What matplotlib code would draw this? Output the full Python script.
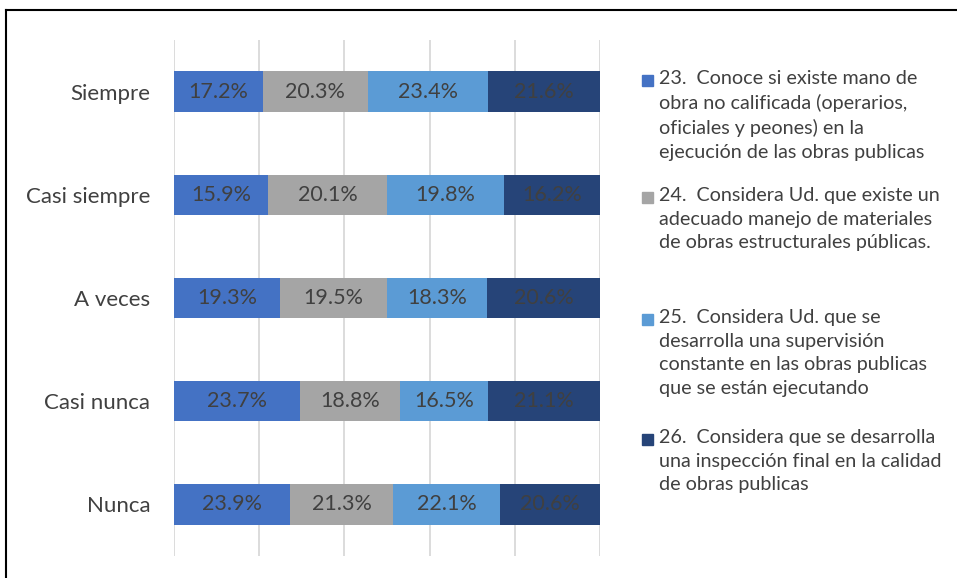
import numpy as np
import pandas as pd
import matplotlib.pyplot as plt
from matplotlib.patches import Rectangle

plt.rcParams['font.family'] = ['Lato', 'DejaVu Sans']

categorias = ['Siempre', 'Casi siempre', 'A veces', 'Casi nunca', 'Nunca']
p23 = [17.2, 15.9, 19.3, 23.7, 23.9]
p24 = [20.3, 20.1, 19.5, 18.8, 21.3]
p25 = [23.4, 19.8, 18.3, 16.5, 22.1]
p26 = [21.6, 16.2, 20.6, 21.1, 20.6]

leyenda = [
    '23.  Conoce si existe mano de\nobra no calificada (operarios,\noficiales y peones) en la\nejecución de las obras publicas',
    '24.  Considera Ud. que existe un\nadecuado manejo de materiales\nde obras estructurales públicas.',
    '25.  Considera Ud. que se\ndesarrolla una supervisión\nconstante en las obras publicas\nque se están ejecutando',
    '26.  Considera que se desarrolla\nuna inspección final en la calidad\nde obras publicas',
]
colores = ['#4472C4', '#A5A5A5', '#5B9BD5', '#264478']

df = pd.DataFrame({'23': p23, '24': p24, '25': p25, '26': p26}, index=categorias)
frac = df.div(df.sum(axis=1), axis=0)

fig = plt.figure(figsize=(9.57, 5.78), dpi=100)
ax = fig.add_axes([174 / 957, 1 - 556 / 578, 426 / 957, 516 / 578])

y = np.arange(len(categorias))
left = np.zeros(len(categorias))
for i, col in enumerate(df.columns):
    ax.barh(y, frac[col], left=left, height=0.39, color=colores[i], zorder=3)
    for j in range(len(categorias)):
        ax.text(left[j] + frac[col].iloc[j] / 2, y[j], '{0:.1f}%'.format(df[col].iloc[j]),
                ha='center', va='center', fontsize=15.5, color='#404040', zorder=4)
    left += frac[col].values

ax.set_xlim(0, 1)
ax.set_ylim(len(categorias) - 0.5, -0.5)
ax.set_xticks(np.linspace(0, 1, 6))
ax.set_xticklabels([])
ax.set_yticks(y)
ax.set_yticklabels(categorias, fontsize=16, color='#404040')
ax.tick_params(axis='both', length=0)
ax.tick_params(axis='y', pad=17)
ax.grid(axis='x', color='#D9D9D9', linewidth=1.3, zorder=0)
for s in ax.spines.values():
    s.set_visible(False)

# leyenda manual
ys = [80, 197, 319, 439]
for k, texto in enumerate(leyenda):
    fig.patches.append(Rectangle((642 / 957, 1 - (ys[k] + 5.5) / 578), 11 / 957, 11 / 578,
                                 transform=fig.transFigure, color=colores[k]))
    fig.text(659 / 957, 1 - (ys[k] - 10) / 578, texto, ha='left', va='top',
             fontsize=14.2, color='#404040', linespacing=1.47)

# marco
fig.add_artist(plt.Line2D([6 / 957, 6 / 957], [0, 1 - 10 / 578], color='black', lw=1.5,
                          transform=fig.transFigure))
fig.add_artist(plt.Line2D([6 / 957, 1], [1 - 10 / 578, 1 - 10 / 578], color='black', lw=1.5,
                          transform=fig.transFigure))

fig.savefig('out.png', dpi=100)
